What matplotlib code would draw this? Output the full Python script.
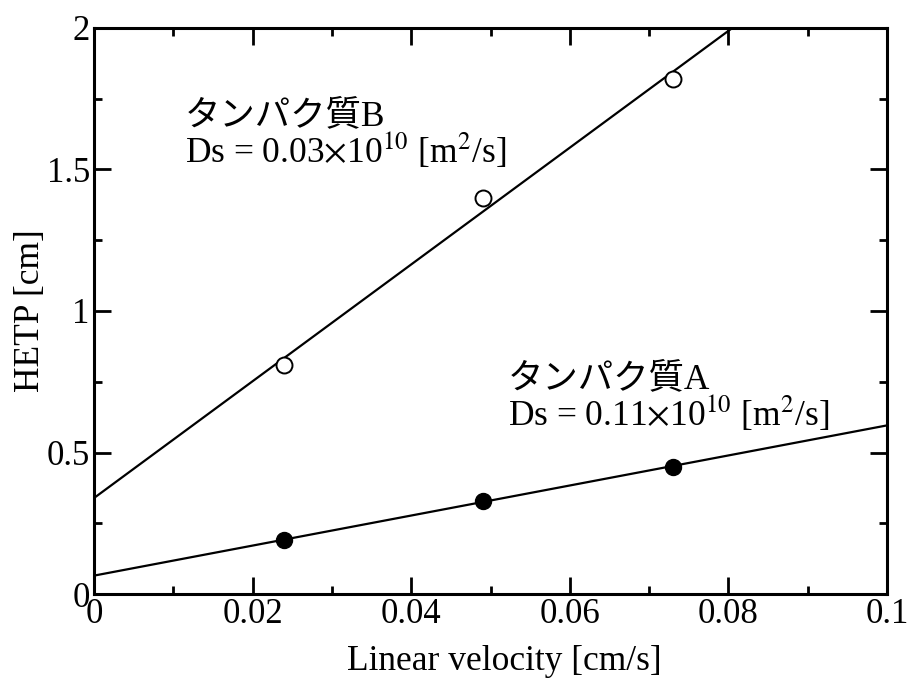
import matplotlib
matplotlib.use('Agg')
import matplotlib.pyplot as plt
import matplotlib.ticker as ticker
import numpy as np

plt.rcParams['font.family'] = ['Liberation Serif', 'Noto Sans CJK JP']
plt.rcParams['mathtext.fontset'] = 'stix'

# Datos
velocidad = [0.024, 0.049, 0.073]
hetp_a = [0.19, 0.33, 0.45]
hetp_b = [0.81, 1.40, 1.82]

texto_a = 'タンパク質A\nDs = 0.11$\\times$10$^{10}$ [m$^2$/s]'
texto_b = 'タンパク質B\nDs = 0.03$\\times$10$^{10}$ [m$^2$/s]'

fig = plt.figure(figsize=(9.11, 6.82), dpi=100)
ax = fig.add_axes([0.1032, 0.129, 0.8705, 0.830])

# Rectas de ajuste (mínimos cuadrados)
xr = np.array([0.0, 0.1])
for y in (hetp_a, hetp_b):
    m, b = np.polyfit(velocidad, y, 1)
    ax.plot(xr, m * xr + b, color='black', linewidth=1.6, zorder=2)

ax.plot(velocidad, hetp_a, 'o', color='black', markersize=11.5, zorder=3)
ax.plot(velocidad, hetp_b, 'o', markerfacecolor='white', markeredgecolor='black',
        markeredgewidth=1.4, markersize=11.5, zorder=3)

ax.set_xlim(0, 0.1)
ax.set_ylim(0, 2)
ax.xaxis.set_major_locator(ticker.MultipleLocator(0.02))
ax.xaxis.set_minor_locator(ticker.MultipleLocator(0.01))
ax.yaxis.set_major_locator(ticker.MultipleLocator(0.5))
ax.yaxis.set_minor_locator(ticker.MultipleLocator(0.25))
ax.xaxis.set_major_formatter(ticker.FormatStrFormatter('%g'))
ax.yaxis.set_major_formatter(ticker.FormatStrFormatter('%g'))

ax.tick_params(which='both', direction='in', top=True, right=True, width=2, labelsize=25, pad=3)
ax.tick_params(which='major', length=12)
ax.tick_params(which='minor', length=6)
for s in ax.spines.values():
    s.set_linewidth(2.2)

ax.set_xlabel('Linear velocity [cm/s]', fontsize=25.5, labelpad=10)
ax.xaxis.set_label_coords(0.518, -0.09)
ax.set_ylabel('HETP [cm]', fontsize=25.5, labelpad=0)

ax.text(0.0115, 1.745, texto_b, fontsize=25.5, va='top', ha='left', linespacing=0.92)
ax.text(0.0522, 0.815, texto_a, fontsize=25.5, va='top', ha='left', linespacing=0.92)

plt.savefig('out.png', dpi=100)
plt.close()
